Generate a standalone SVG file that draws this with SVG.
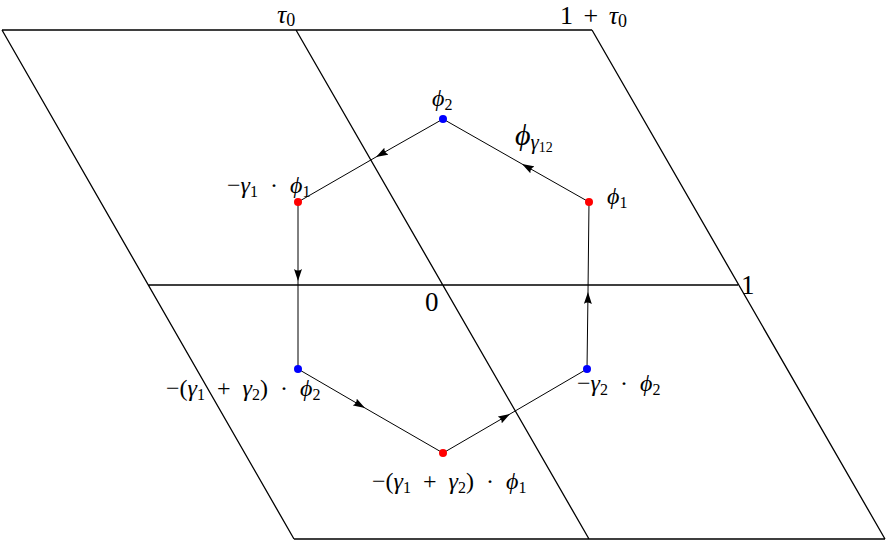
<svg xmlns="http://www.w3.org/2000/svg" width="887" height="541" viewBox="0 0 887 541">
<style>
.lat{stroke:#000;stroke-width:1.3;fill:none}
.hx{stroke:#000;stroke-width:1;fill:none}
.t{font-family:"Liberation Serif","DejaVu Serif",serif;font-size:24px;fill:#000;word-spacing:6px}
.i{font-style:italic}
.s{font-size:16px}
</style>
<defs>
<marker id="ah" viewBox="0 0 12 8" refX="12" refY="4" markerWidth="12" markerHeight="8" markerUnits="userSpaceOnUse" orient="auto">
<path d="M0,0 Q3,4 0,8 L12,4 Z" fill="#000"/>
</marker>
</defs>
<rect width="887" height="541" fill="#fff"/>
<g id="lattice">
<path class="lat" d="M2,30 L592,30 M148,285 L738,285 M294,539 L885,539 M2,30 L294,539 M296,30 L589,539 M592,30 L885,539"/>
</g>
<g id="connectors">
<path class="hx" d="M589,202 L522,164" marker-end="url(#ah)"/>
<path class="hx" d="M522,164 L443,119"/>
<path class="hx" d="M443,119 L376,157" marker-end="url(#ah)"/>
<path class="hx" d="M376,157 L298,202"/>
<path class="hx" d="M298,202 L298,281" marker-end="url(#ah)"/>
<path class="hx" d="M298,281 L298,369"/>
<path class="hx" d="M298,369 L365,408" marker-end="url(#ah)"/>
<path class="hx" d="M365,408 L443,453"/>
<path class="hx" d="M443,453 L510,414" marker-end="url(#ah)"/>
<path class="hx" d="M510,414 L587,369"/>
<path class="hx" d="M587,369 L588,292" marker-end="url(#ah)"/>
<path class="hx" d="M588,292 L589,202"/>
</g>
<g id="label-tau0"><text class="t" x="277" y="23" style="font-size:26px"><tspan class="i">τ</tspan><tspan style="font-size:18px" dy="3">0</tspan></text></g>
<g id="label-1tau0"><text class="t" x="560" y="24" style="font-size:26px;word-spacing:4px">1 + <tspan class="i">τ</tspan><tspan style="font-size:18px" dy="3">0</tspan></text></g>
<g id="label-0"><text class="t" x="425" y="311" style="font-size:27px">0</text></g>
<g id="label-1"><text class="t" x="741" y="294" style="font-size:27px">1</text></g>
<g id="label-phigamma"><text class="t" x="515" y="145" style="font-size:30px"><tspan class="i">ϕ</tspan><tspan class="i" style="font-size:21px" dy="4">γ</tspan><tspan style="font-size:14px" dy="3">12</tspan></text></g>
<g id="node-phi2">
<circle cx="443" cy="119" r="4" fill="#00f"/>
<text class="t" x="432" y="106"><tspan class="i">ϕ</tspan><tspan class="s" dy="4">2</tspan></text>
</g>
<g id="node-phi1">
<circle cx="589" cy="202" r="4" fill="#f00"/>
<text class="t" x="607" y="204"><tspan class="i">ϕ</tspan><tspan class="s" dy="4">1</tspan></text>
</g>
<g id="node-g1phi1">
<circle cx="298" cy="202" r="4" fill="#f00"/>
<text class="t" x="227" y="193">−<tspan class="i">γ</tspan><tspan class="s" dy="4">1</tspan><tspan dy="-4"> · </tspan><tspan class="i">ϕ</tspan><tspan class="s" dy="4">1</tspan></text>
</g>
<g id="node-g12phi2">
<circle cx="298" cy="369" r="4" fill="#00f"/>
<text class="t" x="166" y="396">−(<tspan class="i">γ</tspan><tspan class="s" dy="4">1</tspan><tspan dy="-4"> + </tspan><tspan class="i">γ</tspan><tspan class="s" dy="4">2</tspan><tspan dy="-4">) · </tspan><tspan class="i">ϕ</tspan><tspan class="s" dy="4">2</tspan></text>
</g>
<g id="node-g12phi1">
<circle cx="443" cy="453" r="4" fill="#f00"/>
<text class="t" x="372" y="489">−(<tspan class="i">γ</tspan><tspan class="s" dy="4">1</tspan><tspan dy="-4"> + </tspan><tspan class="i">γ</tspan><tspan class="s" dy="4">2</tspan><tspan dy="-4">) · </tspan><tspan class="i">ϕ</tspan><tspan class="s" dy="4">1</tspan></text>
</g>
<g id="node-g2phi2">
<circle cx="587" cy="369" r="4" fill="#00f"/>
<text class="t" x="577" y="391">−<tspan class="i">γ</tspan><tspan class="s" dy="4">2</tspan><tspan dy="-4"> · </tspan><tspan class="i">ϕ</tspan><tspan class="s" dy="4">2</tspan></text>
</g>
</svg>
